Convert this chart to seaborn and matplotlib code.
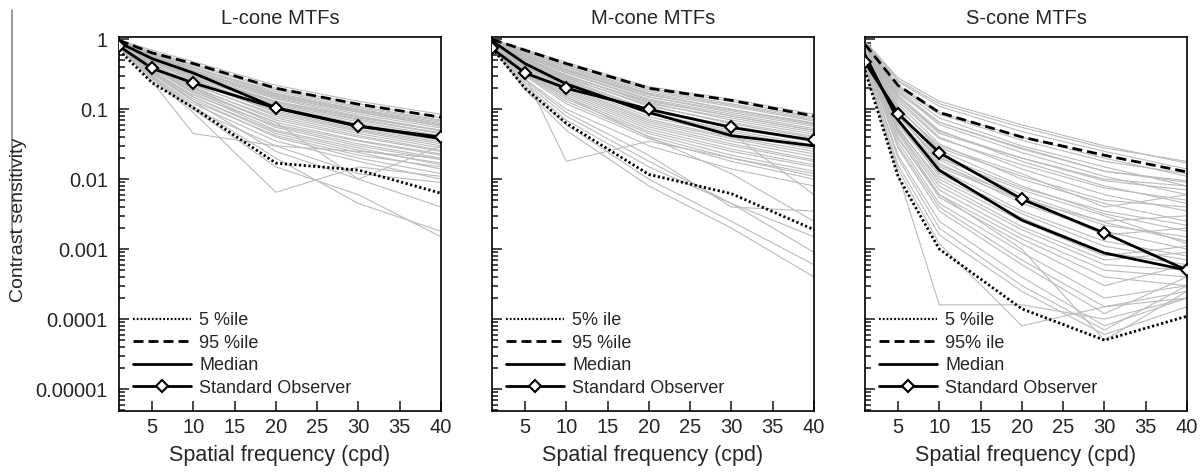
import pandas as pd
import matplotlib
matplotlib.use("Agg")
import matplotlib.pyplot as plt
import seaborn as sns
from matplotlib.lines import Line2D
from matplotlib.ticker import LogLocator, NullFormatter, FixedLocator, FixedFormatter

# spatial frequencies (cpd) at which the MTFs are sampled
freq = [1, 5, 10, 20, 30, 40]

titles = ["L-cone MTFs", "M-cone MTFs", "S-cone MTFs"]
p5_labels = ["5 %ile", "5% ile", "5 %ile"]
p95_labels = ["95 %ile", "95 %ile", "95% ile"]

ytick_vals = [1, 0.1, 0.01, 0.001, 0.0001, 0.00001]
ytick_text = ["1", "0.1", "0.01", "0.001", "0.0001", "0.00001"]
xtick_vals = [5, 10, 15, 20, 25, 30, 35, 40]

# L-cone
l_p5 = [0.70, 0.24, 0.105, 0.017, 0.0135, 0.0063]
l_p95 = [0.97, 0.64, 0.45, 0.20, 0.118, 0.077]
l_median = [0.90, 0.53, 0.33, 0.105, 0.058, 0.038]
l_std = [0.80, 0.385, 0.238, 0.104, 0.057, 0.040]
l_gray = [
    [0.98, 0.70, 0.48, 0.22, 0.13, 0.085],
    [0.97, 0.66, 0.44, 0.20, 0.12, 0.075],
    [0.96, 0.62, 0.40, 0.17, 0.10, 0.065],
    [0.95, 0.60, 0.36, 0.15, 0.090, 0.058],
    [0.94, 0.57, 0.33, 0.14, 0.080, 0.050],
    [0.93, 0.55, 0.31, 0.12, 0.070, 0.045],
    [0.92, 0.52, 0.29, 0.11, 0.062, 0.040],
    [0.91, 0.50, 0.27, 0.10, 0.055, 0.036],
    [0.90, 0.48, 0.25, 0.090, 0.050, 0.032],
    [0.89, 0.45, 0.23, 0.080, 0.045, 0.028],
    [0.88, 0.43, 0.21, 0.070, 0.040, 0.025],
    [0.87, 0.41, 0.20, 0.060, 0.035, 0.022],
    [0.86, 0.40, 0.18, 0.055, 0.030, 0.019],
    [0.85, 0.38, 0.17, 0.050, 0.028, 0.016],
    [0.84, 0.36, 0.15, 0.045, 0.024, 0.014],
    [0.83, 0.33, 0.14, 0.040, 0.020, 0.012],
    [0.82, 0.30, 0.12, 0.035, 0.018, 0.010],
    [0.80, 0.28, 0.10, 0.030, 0.025, 0.020],
    [0.78, 0.25, 0.045, 0.030, 0.012, 0.009],
    [0.76, 0.27, 0.09, 0.0065, 0.015, 0.011],
    [0.80, 0.30, 0.11, 0.020, 0.0045, 0.0018],
    [0.79, 0.29, 0.10, 0.015, 0.006, 0.0015],
    [0.85, 0.35, 0.13, 0.025, 0.010, 0.004],
    [0.88, 0.42, 0.19, 0.065, 0.010, 0.030],
    [0.90, 0.50, 0.30, 0.13, 0.075, 0.050],
    [0.93, 0.58, 0.35, 0.16, 0.095, 0.060],
    [0.96, 0.65, 0.42, 0.19, 0.11, 0.070],
    [0.95, 0.63, 0.39, 0.18, 0.105, 0.068],
    [0.94, 0.61, 0.38, 0.165, 0.098, 0.062],
    [0.93, 0.59, 0.36, 0.155, 0.092, 0.057],
    [0.92, 0.56, 0.34, 0.145, 0.085, 0.054],
    [0.91, 0.54, 0.32, 0.13, 0.078, 0.049],
    [0.90, 0.51, 0.30, 0.125, 0.072, 0.046],
    [0.89, 0.49, 0.28, 0.115, 0.066, 0.042],
    [0.88, 0.47, 0.26, 0.105, 0.060, 0.038],
    [0.87, 0.44, 0.24, 0.095, 0.052, 0.034],
    [0.86, 0.42, 0.22, 0.085, 0.048, 0.030],
    [0.85, 0.39, 0.20, 0.075, 0.042, 0.026],
    [0.84, 0.37, 0.18, 0.065, 0.036, 0.023],
    [0.83, 0.35, 0.16, 0.058, 0.032, 0.020],
    [0.82, 0.34, 0.15, 0.048, 0.026, 0.017],
    [0.81, 0.32, 0.13, 0.042, 0.022, 0.015],
]

# M-cone
m_p5 = [0.75, 0.20, 0.063, 0.0117, 0.0062, 0.0019]
m_p95 = [1.0, 0.70, 0.45, 0.20, 0.134, 0.080]
m_median = [0.95, 0.45, 0.23, 0.090, 0.042, 0.030]
m_std = [0.74, 0.33, 0.20, 0.100, 0.055, 0.036]
m_gray = [
    [1.0, 0.72, 0.47, 0.21, 0.14, 0.085],
    [0.98, 0.68, 0.43, 0.19, 0.12, 0.075],
    [0.97, 0.64, 0.40, 0.17, 0.11, 0.068],
    [0.96, 0.60, 0.37, 0.15, 0.095, 0.060],
    [0.95, 0.57, 0.34, 0.14, 0.085, 0.053],
    [0.94, 0.54, 0.31, 0.12, 0.075, 0.047],
    [0.93, 0.51, 0.29, 0.11, 0.065, 0.041],
    [0.92, 0.48, 0.27, 0.10, 0.058, 0.036],
    [0.91, 0.45, 0.25, 0.088, 0.050, 0.031],
    [0.90, 0.42, 0.22, 0.078, 0.044, 0.027],
    [0.89, 0.40, 0.20, 0.068, 0.038, 0.023],
    [0.88, 0.37, 0.18, 0.060, 0.032, 0.019],
    [0.87, 0.35, 0.16, 0.052, 0.027, 0.016],
    [0.86, 0.32, 0.14, 0.045, 0.022, 0.013],
    [0.85, 0.30, 0.12, 0.038, 0.018, 0.010],
    [0.84, 0.27, 0.10, 0.030, 0.014, 0.008],
    [0.82, 0.30, 0.018, 0.035, 0.020, 0.012],
    [0.80, 0.22, 0.07, 0.015, 0.0045, 0.0015],
    [0.78, 0.20, 0.06, 0.010, 0.0025, 0.0006],
    [0.77, 0.19, 0.05, 0.008, 0.0020, 0.0004],
    [0.80, 0.24, 0.08, 0.018, 0.0045, 0.0009],
    [0.83, 0.26, 0.09, 0.022, 0.004, 0.0035],
    [0.86, 0.34, 0.15, 0.040, 0.012, 0.0025],
    [0.90, 0.44, 0.24, 0.09, 0.045, 0.006],
    [0.93, 0.52, 0.30, 0.13, 0.080, 0.050],
    [0.95, 0.58, 0.36, 0.16, 0.10, 0.062],
    [0.99, 0.69, 0.44, 0.20, 0.13, 0.078],
    [0.97, 0.66, 0.41, 0.18, 0.115, 0.071],
    [0.96, 0.62, 0.38, 0.165, 0.10, 0.064],
    [0.95, 0.59, 0.355, 0.15, 0.09, 0.057],
    [0.94, 0.56, 0.33, 0.135, 0.08, 0.050],
    [0.93, 0.53, 0.30, 0.125, 0.07, 0.044],
    [0.92, 0.50, 0.28, 0.115, 0.062, 0.039],
    [0.91, 0.47, 0.26, 0.095, 0.054, 0.034],
    [0.90, 0.44, 0.23, 0.085, 0.047, 0.029],
    [0.89, 0.41, 0.21, 0.072, 0.040, 0.025],
    [0.88, 0.38, 0.19, 0.064, 0.035, 0.021],
    [0.87, 0.36, 0.17, 0.056, 0.030, 0.018],
    [0.86, 0.33, 0.15, 0.048, 0.025, 0.015],
    [0.85, 0.31, 0.13, 0.041, 0.020, 0.011],
]

# S-cone
s_p5 = [0.36, 0.011, 0.001, 0.00014, 0.00005, 0.00011]
s_p95 = [0.85, 0.22, 0.09, 0.040, 0.022, 0.0127]
s_median = [0.60, 0.07, 0.0134, 0.0026, 0.00088, 0.0005]
s_std = [0.47, 0.087, 0.024, 0.0052, 0.0017, 0.0005]
s_gray = [
    [0.95, 0.28, 0.13, 0.060, 0.030, 0.017],
    [0.92, 0.25, 0.11, 0.048, 0.025, 0.014],
    [0.90, 0.22, 0.09, 0.040, 0.020, 0.011],
    [0.88, 0.20, 0.075, 0.030, 0.015, 0.008],
    [0.85, 0.18, 0.060, 0.024, 0.011, 0.006],
    [0.82, 0.16, 0.050, 0.018, 0.008, 0.0045],
    [0.80, 0.14, 0.040, 0.014, 0.006, 0.0035],
    [0.78, 0.12, 0.032, 0.010, 0.0045, 0.0025],
    [0.75, 0.11, 0.026, 0.008, 0.0032, 0.0018],
    [0.72, 0.095, 0.021, 0.006, 0.0024, 0.0013],
    [0.70, 0.085, 0.017, 0.0045, 0.0018, 0.0010],
    [0.68, 0.075, 0.014, 0.0035, 0.0013, 0.0008],
    [0.65, 0.065, 0.011, 0.0028, 0.0009, 0.0006],
    [0.62, 0.055, 0.009, 0.0021, 0.0007, 0.0009],
    [0.60, 0.048, 0.007, 0.0016, 0.0005, 0.0004],
    [0.57, 0.040, 0.0055, 0.0012, 0.0003, 0.0006],
    [0.55, 0.034, 0.0045, 0.0009, 0.0002, 0.0003],
    [0.52, 0.028, 0.0035, 0.0006, 0.00012, 0.0004],
    [0.50, 0.022, 0.0025, 0.0004, 0.00008, 0.0002],
    [0.45, 0.016, 0.0016, 0.00025, 0.00006, 0.00015],
    [0.40, 0.012, 0.00016, 0.00016, 0.00010, 0.0002],
    [0.42, 0.014, 0.0012, 0.00008, 0.00015, 0.0002],
    [0.65, 0.07, 0.015, 0.005, 0.0025, 0.0030],
    [0.75, 0.10, 0.030, 0.012, 0.0040, 0.0060],
    [0.85, 0.15, 0.045, 0.020, 0.0100, 0.0080],
    [0.58, 0.045, 0.006, 0.0010, 0.00005, 0.00025],
    [0.68, 0.08, 0.020, 0.0070, 0.0030, 0.0012],
    [0.90, 0.19, 0.065, 0.028, 0.013, 0.0095],
    [0.93, 0.26, 0.12, 0.055, 0.028, 0.018],
    [0.87, 0.21, 0.085, 0.036, 0.018, 0.012],
    [0.83, 0.17, 0.065, 0.027, 0.013, 0.009],
    [0.79, 0.15, 0.048, 0.020, 0.0095, 0.007],
    [0.76, 0.13, 0.038, 0.016, 0.0075, 0.005],
    [0.73, 0.105, 0.028, 0.011, 0.005, 0.004],
    [0.70, 0.09, 0.022, 0.0075, 0.0035, 0.0022],
    [0.66, 0.072, 0.016, 0.0055, 0.0022, 0.0015],
    [0.63, 0.06, 0.012, 0.0032, 0.0011, 0.0007],
    [0.60, 0.05, 0.008, 0.0019, 0.0006, 0.0005],
    [0.56, 0.038, 0.0060, 0.0014, 0.0004, 0.0003],
    [0.53, 0.030, 0.0040, 0.0007, 0.00015, 0.00025],
    [0.48, 0.020, 0.0020, 0.0003, 0.00007, 0.0003],
    [0.62, 0.052, 0.010, 0.0025, 0.0008, 0.0011],
    [0.71, 0.08, 0.019, 0.0050, 0.0016, 0.0020],
]

panels = [
    (l_gray, l_p5, l_p95, l_median, l_std),
    (m_gray, m_p5, m_p95, m_median, m_std),
    (s_gray, s_p5, s_p95, s_median, s_std),
]


def gray_frame(curves):
    rows = []
    for i, c in enumerate(curves):
        for f, v in zip(freq, c):
            rows.append({"obs": i, "freq": f, "sens": v})
    return pd.DataFrame(rows)


sns.set_style("ticks")
plt.rcParams["font.family"] = ["Liberation Sans", "DejaVu Sans"]
plt.rcParams["axes.linewidth"] = 1.2

fig = plt.figure(figsize=(12.02, 4.72), dpi=100)
lefts = [119, 492, 865]
ax_w, ax_bottom, ax_top = 322, 411, 37
W, H = 1202, 472

dot_ls = (0, (0.8, 0.9))
dash_ls = (0, (3.6, 1.8))

for k, (gray, p5, p95, med, std) in enumerate(panels):
    ax = fig.add_axes([lefts[k] / W, 1 - ax_bottom / H, ax_w / W, (ax_bottom - ax_top) / H])
    sns.lineplot(data=gray_frame(gray), x="freq", y="sens", units="obs", estimator=None,
                 color="#bbbbbb", lw=0.8, ax=ax, legend=False, zorder=1)
    sns.lineplot(x=freq, y=p5, color="black", lw=2.0, linestyle=dot_ls, ax=ax, zorder=3)
    sns.lineplot(x=freq, y=p95, color="black", lw=2.0, linestyle=dash_ls, ax=ax, zorder=3)
    sns.lineplot(x=freq, y=med, color="black", lw=2.0, ax=ax, zorder=3)
    sns.lineplot(x=freq, y=std, color="black", lw=2.0, marker="D", markersize=6.5,
                 markerfacecolor="white", markeredgecolor="black", markeredgewidth=1.5,
                 ax=ax, zorder=4)

    ax.set_yscale("log")
    ax.set_xlim(1, 40)
    ax.set_ylim(4.85e-6, 1.08)
    ax.set_xlabel("Spatial frequency (cpd)", fontsize=15.5, labelpad=6)
    ax.set_ylabel("")
    ax.set_title(titles[k], fontsize=14.5, pad=9)

    ax.xaxis.set_major_locator(FixedLocator(xtick_vals))
    ax.yaxis.set_major_locator(FixedLocator(ytick_vals))
    ax.yaxis.set_minor_locator(LogLocator(base=10, subs=range(2, 10)))
    ax.yaxis.set_minor_formatter(NullFormatter())
    if k == 0:
        ax.yaxis.set_major_formatter(FixedFormatter(ytick_text))
    else:
        ax.yaxis.set_major_formatter(NullFormatter())
    ax.tick_params(which="both", direction="in", top=False, right=False, width=1.2)
    ax.tick_params(which="major", length=7, labelsize=14.5)
    ax.tick_params(axis="x", which="major", pad=5)
    ax.tick_params(axis="y", which="major", pad=8)
    ax.tick_params(axis="y", which="minor", length=4)
    for s in ax.spines.values():
        s.set_visible(True)
        s.set_color("black")

    handles = [
        Line2D([], [], color="black", lw=1.6, linestyle=dot_ls),
        Line2D([], [], color="black", lw=2.0, linestyle=dash_ls),
        Line2D([], [], color="black", lw=2.0),
        Line2D([], [], color="black", lw=2.0, marker="D", markersize=6.5,
               markerfacecolor="white", markeredgecolor="black", markeredgewidth=1.5),
    ]
    labels = [p5_labels[k], p95_labels[k], "Median", "Standard Observer"]
    ax.legend(handles, labels, loc="lower left", bbox_to_anchor=(0, 0), frameon=False,
              fontsize=13, handlelength=3.2, handletextpad=0.45, labelspacing=0.3,
              borderaxespad=0.3, borderpad=0.5)

fig.text(19 / W, 1 - 220 / H, "Contrast sensitivity", rotation=90, fontsize=14,
         ha="center", va="center")
fig.add_artist(Line2D([12 / W, 12 / W], [1 - 10 / H, 1 - 238 / H], color="#8a8a8a", lw=1.2))

fig.savefig("out.png", dpi=100)
